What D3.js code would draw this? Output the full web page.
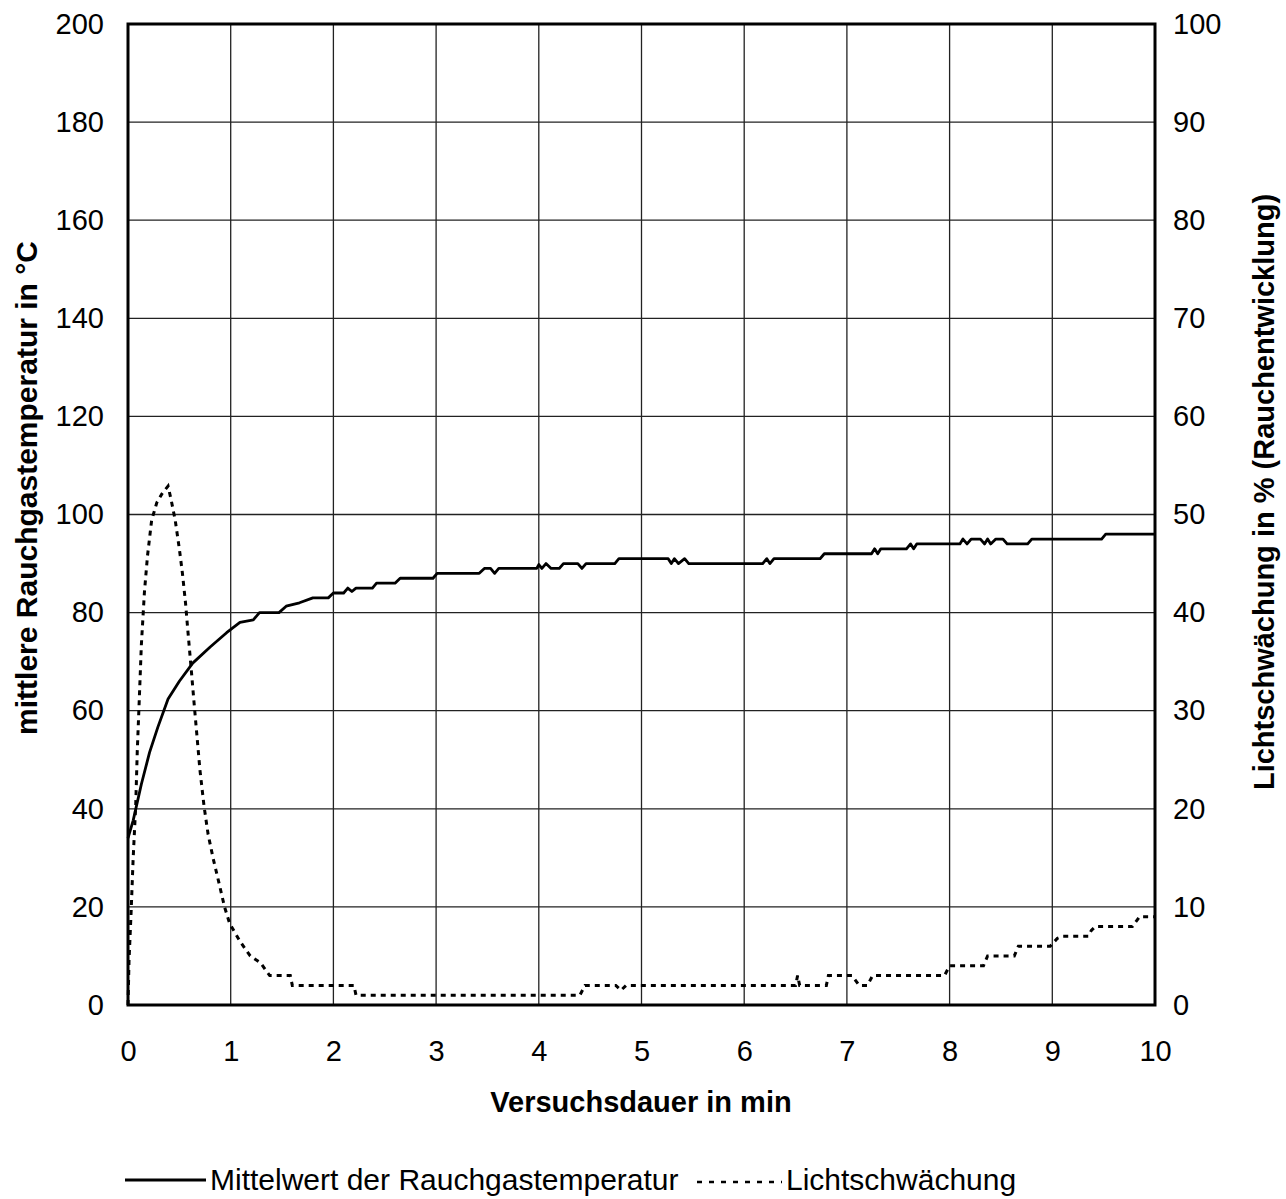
<!DOCTYPE html>
<html>
<head>
<meta charset="utf-8">
<script src="https://cdn.jsdelivr.net/npm/d3@7"></script>
<style>
  body { margin: 0; background: #fff; }
  text { font-family: "Liberation Sans", Arial, sans-serif; fill: #000; }
</style>
</head>
<body>
<script>
// Mittelwert der Rauchgastemperatur (°C) over time (min)
var tempTime = [0, 0.05, 0.13, 0.21, 0.29, 0.39, 0.5, 0.63, 0.8, 0.96, 1.09, 1.22, 1.28, 1.47, 1.54, 1.67, 1.8, 1.95, 2.0, 2.1, 2.14, 2.18, 2.22, 2.38, 2.42, 2.6, 2.65, 2.97, 3.01, 3.42, 3.47, 3.53, 3.57, 3.61, 3.98, 4.0, 4.03, 4.07, 4.12, 4.2, 4.24, 4.38, 4.42, 4.46, 4.74, 4.78, 5.26, 5.29, 5.32, 5.36, 5.42, 5.46, 6.18, 6.22, 6.25, 6.29, 6.74, 6.78, 7.24, 7.27, 7.3, 7.33, 7.58, 7.62, 7.65, 7.68, 8.1, 8.13, 8.17, 8.21, 8.3, 8.34, 8.37, 8.4, 8.45, 8.52, 8.56, 8.76, 8.8, 9.48, 9.52, 10];
var tempVal  = [34, 37.6, 45, 51.5, 56.6, 62.4, 66, 69.7, 73, 75.9, 78, 78.5, 80, 80, 81.3, 82, 83, 83, 84, 84, 85, 84.3, 85, 85, 86, 86, 87, 87, 88, 88, 89, 89, 88, 89, 89, 89.8, 89, 90, 89, 89, 90, 90, 89, 90, 90, 91, 91, 90, 91, 90, 91, 90, 90, 91, 90, 91, 91, 92, 92, 93, 92, 93, 93, 94, 93, 94, 94, 95, 94, 95, 95, 94, 95, 94, 95, 95, 94, 94, 95, 95, 96, 96];

// Lichtschwächung (%) over time (min)
var smokeTime = [0, 0.01, 0.03, 0.05, 0.075, 0.09, 0.11, 0.13, 0.16, 0.19, 0.23, 0.28, 0.33, 0.39, 0.42, 0.46, 0.5, 0.53, 0.56, 0.58, 0.61, 0.64, 0.67, 0.7, 0.74, 0.78, 0.83, 0.88, 0.94, 0.99, 1.09, 1.19, 1.29, 1.38, 1.58, 1.6, 2.2, 2.22, 4.4, 4.45, 4.75, 4.8, 4.85, 6.5, 6.52, 6.54, 6.8, 6.82, 7.05, 7.12, 7.2, 7.25, 7.95, 8.0, 8.33, 8.37, 8.63, 8.67, 8.98, 9.05, 9.1, 9.35, 9.38, 9.42, 9.78, 9.85, 10];
var smokeVal  = [0, 4.5, 9.4, 14.9, 20.3, 25.8, 31.2, 36.7, 42.1, 45.8, 49.4, 51.2, 52.1, 52.9, 51.5, 49.4, 46.5, 44, 41, 38.5, 34.9, 31.2, 27.6, 24, 20.3, 17.4, 14.9, 12.7, 10, 8.3, 6.5, 5, 4.3, 3, 3, 2, 2, 1, 1, 2, 2, 1.5, 2, 2, 3, 2, 2, 3, 3, 2, 2, 3, 3, 4, 4, 5, 5, 6, 6, 6.8, 7, 7, 7.6, 8, 8, 9, 9];

var xTicks = [0, 1, 2, 3, 4, 5, 6, 7, 8, 9, 10];
var yLeftTicks = [0, 20, 40, 60, 80, 100, 120, 140, 160, 180, 200];
var yRightTicks = [0, 10, 20, 30, 40, 50, 60, 70, 80, 90, 100];

var W = 1286, H = 1199;
var margin = {top: 24, right: 131, bottom: 194, left: 128},
    width = W - margin.left - margin.right,
    height = H - margin.top - margin.bottom;

var svg = d3.select("body").append("svg")
    .attr("width", W)
    .attr("height", H);

var g = svg.append("g")
    .attr("transform", "translate(" + margin.left + "," + margin.top + ")");

var x = d3.scaleLinear().domain([0, 10]).range([0, width]);
var yL = d3.scaleLinear().domain([0, 200]).range([height, 0]);
var yR = d3.scaleLinear().domain([0, 100]).range([height, 0]);

// grid
g.selectAll(".vgrid").data(xTicks.slice(1, -1)).enter().append("line")
    .attr("x1", function(d) { return x(d); }).attr("x2", function(d) { return x(d); })
    .attr("y1", 0).attr("y2", height)
    .attr("stroke", "#222").attr("stroke-width", 1.3);
g.selectAll(".hgrid").data(yLeftTicks.slice(1, -1)).enter().append("line")
    .attr("y1", function(d) { return yL(d); }).attr("y2", function(d) { return yL(d); })
    .attr("x1", 0).attr("x2", width)
    .attr("stroke", "#222").attr("stroke-width", 1.3);

// axes
var axB = g.append("g").attr("transform", "translate(0," + height + ")")
    .call(d3.axisBottom(x).tickValues(xTicks).tickSize(0).tickPadding(33));
var axL = g.append("g")
    .call(d3.axisLeft(yL).tickValues(yLeftTicks).tickSize(0).tickPadding(24));
var axR = g.append("g").attr("transform", "translate(" + width + ",0)")
    .call(d3.axisRight(yR).tickValues(yRightTicks).tickSize(0).tickPadding(18));
[axB, axL, axR].forEach(function(a) {
  a.select(".domain").remove();
  a.selectAll("text").style("font-size", "29px").style("font-family", "Liberation Sans, Arial, sans-serif");
});
axB.selectAll("text").attr("dy", "0.35em").attr("y", 46);

// frame
g.append("rect").attr("width", width).attr("height", height)
    .attr("fill", "none").attr("stroke", "#000").attr("stroke-width", 3);

var tempData = tempTime.map(function(t, i) { return [t, tempVal[i]]; });
var smokeData = smokeTime.map(function(t, i) { return [t, smokeVal[i]]; });

g.append("path").datum(smokeData)
    .attr("fill", "none").attr("stroke", "#000").attr("stroke-width", 3)
    .attr("stroke-dasharray", "5,5")
    .attr("d", d3.line().x(function(d) { return x(d[0]); }).y(function(d) { return yR(d[1]); }));

g.append("path").datum(tempData)
    .attr("fill", "none").attr("stroke", "#000").attr("stroke-width", 2.8)
    .attr("stroke-linejoin", "round")
    .attr("d", d3.line().x(function(d) { return x(d[0]); }).y(function(d) { return yL(d[1]); }));

// titles
svg.append("text").attr("x", 641).attr("y", 1112)
    .attr("text-anchor", "middle").style("font-size", "29px").style("font-weight", "bold")
    .text("Versuchsdauer in min");
svg.append("text").attr("transform", "translate(37,488) rotate(-90)")
    .attr("text-anchor", "middle").style("font-size", "30px").style("font-weight", "bold")
    .text("mittlere Rauchgastemperatur in °C");
svg.append("text").attr("transform", "translate(1274,492) rotate(-90)")
    .attr("text-anchor", "middle").style("font-size", "29px").style("font-weight", "bold")
    .text("Lichtschwächung in % (Rauchentwicklung)");

// legend
var ly = 1180;
svg.append("line").attr("x1", 125).attr("x2", 206).attr("y1", ly).attr("y2", ly)
    .attr("stroke", "#000").attr("stroke-width", 2.8);
svg.append("text").attr("x", 210).attr("y", ly + 10).style("font-size", "30px")
    .text("Mittelwert der Rauchgastemperatur");
svg.append("line").attr("x1", 697).attr("x2", 782).attr("y1", ly + 2).attr("y2", ly + 2)
    .attr("stroke", "#000").attr("stroke-width", 2.5).attr("stroke-dasharray", "5,7");
svg.append("text").attr("x", 786).attr("y", ly + 10).style("font-size", "30px")
    .text("Lichtschwächung");
</script>
</body>
</html>
